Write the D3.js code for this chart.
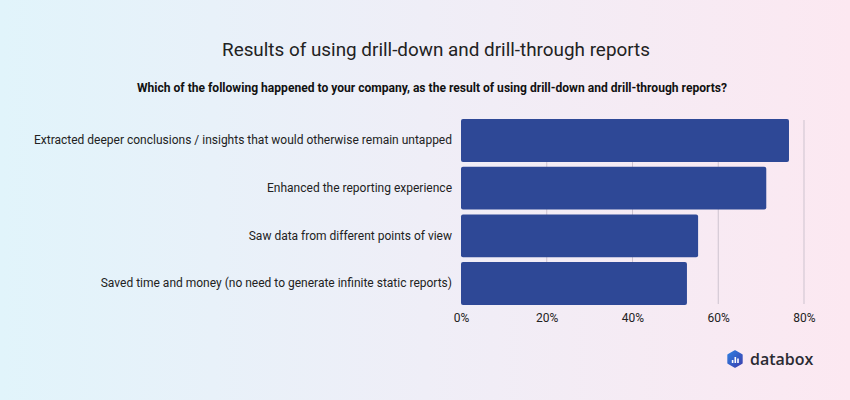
<!DOCTYPE html>
<html><head><meta charset="utf-8">
<script src="https://cdn.jsdelivr.net/npm/d3@7"></script>
<style>html,body{margin:0;padding:0;}svg{display:block;}</style>
</head><body>
<script>
const categories = [
  "Extracted deeper conclusions / insights that would otherwise remain untapped",
  "Enhanced the reporting experience",
  "Saw data from different points of view",
  "Saved time and money (no need to generate infinite static reports)"
];
const values = [76.5, 71.2, 55.3, 52.7];
const tickValues = [0, 20, 40, 60, 80];
const titleText = "Results of using drill-down and drill-through reports";
const subtitleText = "Which of the following happened to your company, as the result of using drill-down and drill-through reports?";

const W = 850, H = 400;
const svg = d3.select("body").append("svg").attr("width", W).attr("height", H);
const defs = svg.append("defs");
const bg = defs.append("linearGradient").attr("id","bg").attr("x1","0").attr("x2","1").attr("y1","0").attr("y2","0");
bg.append("stop").attr("offset","0%").attr("stop-color","#e1f4fb");
bg.append("stop").attr("offset","50%").attr("stop-color","#efeef7");
bg.append("stop").attr("offset","100%").attr("stop-color","#fce8f1");
svg.append("rect").attr("width",W).attr("height",H).attr("fill","url(#bg)");

svg.append("text").attr("x",436).attr("y",56).attr("text-anchor","middle")
  .attr("font-family","Roboto").attr("font-size",18).attr("fill","#222")
  .attr("textLength",428).attr("lengthAdjust","spacingAndGlyphs").text(titleText);
svg.append("text").attr("x",432).attr("y",92).attr("text-anchor","middle")
  .attr("font-family","Roboto").attr("font-weight","bold").attr("font-size",12).attr("fill","#111")
  .attr("textLength",590).attr("lengthAdjust","spacingAndGlyphs").text(subtitleText);

const x = d3.scaleLinear().domain([0,80]).range([461,804]);
const y = d3.scaleBand().domain(categories).range([118,306]).paddingInner(0.1).paddingOuter(0.02);

// gridlines
svg.append("g").selectAll("line").data(tickValues.slice(1)).join("line")
  .attr("x1",d=>x(d)).attr("x2",d=>x(d)).attr("y1",120).attr("y2",304)
  .attr("stroke","#cdc3cf").attr("stroke-width",1);

// bars
svg.append("g").selectAll("rect").data(values).join("rect")
  .attr("x",x(0)).attr("y",(d,i)=>y(categories[i]))
  .attr("width",d=>x(d)-x(0)).attr("height",y.bandwidth())
  .attr("rx",2).attr("fill","#2e4896");

// x axis
const xAxis = svg.append("g").attr("transform","translate(0,306)")
  .call(d3.axisBottom(x).tickValues(tickValues).tickFormat(d=>d+"%").tickSize(0).tickPadding(7));
xAxis.select(".domain").remove();
xAxis.selectAll("text").attr("font-family","Roboto").attr("font-size",12).attr("fill","#222");

// y axis
const yAxis = svg.append("g").attr("transform","translate(452,0)")
  .call(d3.axisLeft(y).tickSize(0).tickPadding(0));
yAxis.select(".domain").remove();
yAxis.selectAll("text").attr("font-family","Roboto").attr("font-size",12).attr("fill","#222");

// logo
const lg = defs.append("linearGradient").attr("id","lg").attr("x1","0").attr("x2","1").attr("y1","0").attr("y2","1");
lg.append("stop").attr("offset","0%").attr("stop-color","#2f7fe0");
lg.append("stop").attr("offset","100%").attr("stop-color","#3a3fae");
const cx = 735, cy = 359, r = 8;
const hex = d3.range(6).map(i=>{const a=Math.PI/3*i - Math.PI/2; return [cx+r*Math.cos(a), cy+r*Math.sin(a)];});
svg.append("path").attr("d","M"+hex.map(p=>p.join(",")).join("L")+"Z").attr("fill","url(#lg)")
  .attr("stroke","url(#lg)").attr("stroke-width",1.5).attr("stroke-linejoin","round");
[[-3.2,3],[-0.5,6],[2.2,4.5]].forEach(([dx,h])=>{
  svg.append("rect").attr("x",cx+dx).attr("y",cy+4-h).attr("width",1.6).attr("height",h).attr("fill","#fff");
});
svg.append("text").attr("x",750).attr("y",365).attr("font-family","Open Sans").attr("font-weight","600")
  .attr("font-size",16).attr("fill","#2b2b33").text("databox");
</script>
</body></html>
